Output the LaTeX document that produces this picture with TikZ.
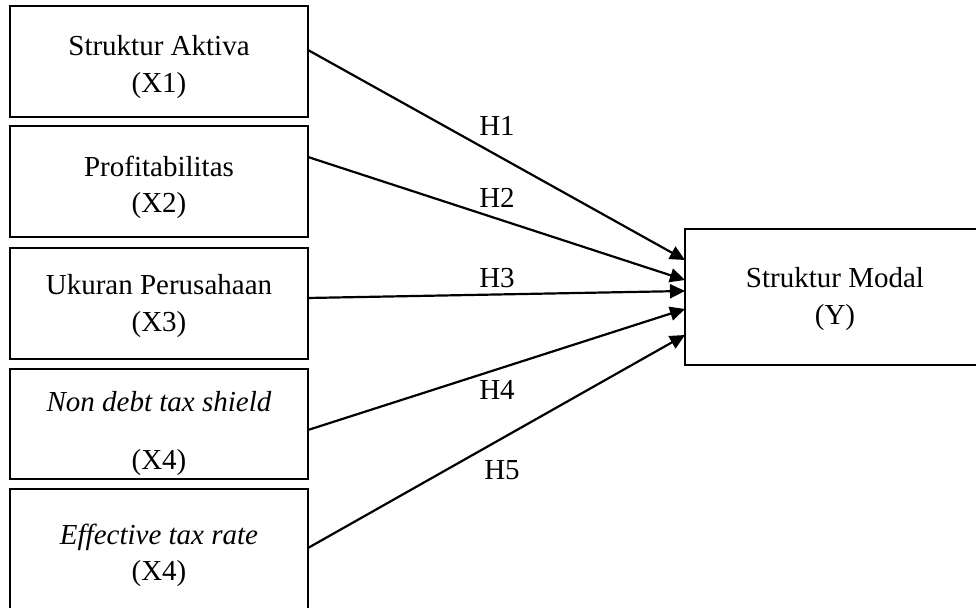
\documentclass[tikz,border=0pt]{standalone}
\usepackage{fontspec}
\setmainfont{Liberation Serif}
\usetikzlibrary{arrows.meta}
\begin{document}
\begin{tikzpicture}[x=0.5pt,y=-0.5pt,
  box/.style={draw, line width=1.3pt, inner sep=0pt, outer sep=0pt, minimum width=149pt},
  txt/.style={font=\fontsize{14.5}{17}\selectfont, inner sep=0pt, anchor=base},
  hlbl/.style={font=\fontsize{14.5}{17}\selectfont, inner sep=0pt},
  link/.style={line width=1.1pt, -{Triangle[length=7.5pt,width=7pt]}}]
\useasboundingbox (0,0) rectangle (976,608);
% boxes
\node[box, minimum height=55.5pt] (b1) at (159,61.5) {};
\node[box, minimum height=55.5pt] (b2) at (159,181.5) {};
\node[box, minimum height=55.5pt] (b3) at (159,303.5) {};
\node[box, minimum height=55pt] (b4) at (159,424) {};
\node[box, minimum height=63pt] (b5) at (159,552) {};
\node[box, minimum width=147.5pt, minimum height=68pt] (y) at (832.5,297) {};
% texts
\node[txt] (t1a) at (159,56) {Struktur Aktiva};
\node[txt] (t1b) at (159,93) {(X1)};
\node[txt] (t2a) at (159,177) {Profitabilitas};
\node[txt] (t2b) at (159,213) {(X2)};
\node[txt] (t3a) at (159,295) {Ukuran Perusahaan};
\node[txt] (t3b) at (159,332) {(X3)};
\node[txt] (t4a) at (159,412) {\itshape Non debt tax shield};
\node[txt] (t4b) at (159,470) {(X4)};
\node[txt] (t5a) at (159,545) {\itshape Effective tax rate};
\node[txt] (t5b) at (159,581) {(X4)};
\node[txt] (tya) at (835,288) {Struktur Modal};
\node[txt] (tyb) at (835,325) {(Y)};
% connectors
\draw[link] ([yshift=5.75pt]b1.east) -- ([yshift=18.5pt]y.west);
\draw[link] ([yshift=12.25pt]b2.east) -- ([yshift=8.5pt]y.west);
\draw[link] ([yshift=2.75pt]b3.east) -- ([yshift=3pt]y.west);
\draw[link] ([yshift=-3pt]b4.east) -- ([yshift=-6pt]y.west);
\draw[link] ([yshift=2pt]b5.east) -- ([yshift=-19pt]y.west);
% labels
\node[hlbl] (h1) at (497,126) {H1};
\node[hlbl] (h2) at (497,198) {H2};
\node[hlbl] (h3) at (497,278) {H3};
\node[hlbl] (h4) at (497,390) {H4};
\node[hlbl] (h5) at (502,470) {H5};
\end{tikzpicture}
\end{document}
